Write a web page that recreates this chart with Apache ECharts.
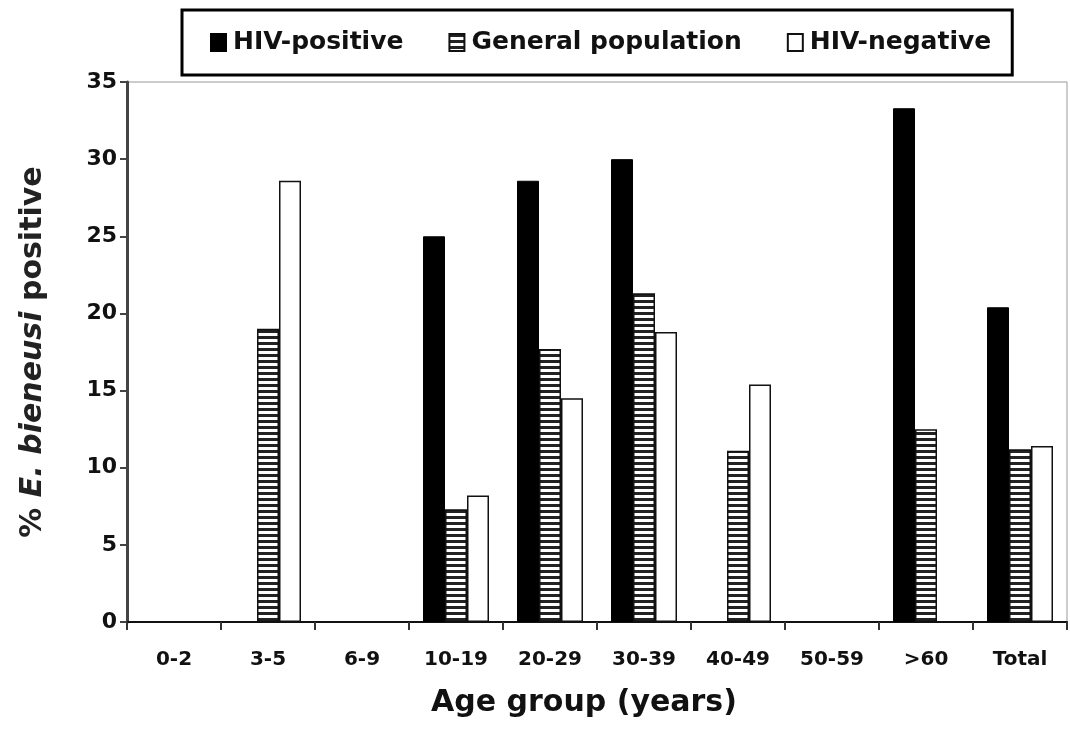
<!DOCTYPE html>
<html>
<head>
<meta charset="utf-8">
<script src="https://cdn.jsdelivr.net/npm/echarts@6/dist/echarts.min.js"></script>
<style>
html,body{margin:0;padding:0;background:#fff;}
#chart{width:1070px;height:729px;}
</style>
</head>
<body>
<div id="chart"></div>
<script>
const categories = ['0-2','3-5','6-9','10-19','20-29','30-39','40-49','50-59','>60','Total'];
const hivPositive = [null, null, null, 25.0, 28.6, 30.0, null, null, 33.3, 20.4];
const generalPopulation = [null, 19.0, null, 7.3, 17.7, 21.3, 11.1, null, 12.5, 11.2];
const hivNegative = [null, 28.6, null, 8.2, 14.5, 18.8, 15.4, null, null, 11.4];
const yTicks = [0, 5, 10, 15, 20, 25, 30, 35];

// horizontal hatch pattern
const pat = document.createElement('canvas');
pat.width = 6; pat.height = 6;
const pc = pat.getContext('2d');
pc.fillStyle = '#fff'; pc.fillRect(0, 0, 6, 6);
pc.fillStyle = '#222'; pc.fillRect(0, 0, 6, 3);

const FONT = 'DejaVu Sans';
const chart = echarts.init(document.getElementById('chart'), null, {renderer: 'canvas'});
chart.setOption({
  animation: false,
  backgroundColor: '#fff',
  textStyle: {fontFamily: FONT},
  legend: {
    left: 182, top: 10,
    padding: [20, 21, 20, 28],
    borderColor: '#000', borderWidth: 3,
    icon: 'rect',
    itemWidth: 15, itemHeight: 17, itemGap: 45,
    textStyle: {fontFamily: FONT, fontWeight: 'bold', fontSize: 25, color: '#111', padding: [0, 0, 0, 2]},
    data: ['HIV-positive', 'General population', 'HIV-negative']
  },
  grid: {
    left: 127, right: 3, top: 82, bottom: 107,
    show: true, borderColor: '#999', borderWidth: 1, backgroundColor: '#fff'
  },
  xAxis: {
    type: 'category',
    data: categories,
    name: 'Age group (years)',
    nameLocation: 'middle',
    nameGap: 66,
    nameTextStyle: {fontFamily: FONT, fontWeight: 'bold', fontSize: 30, color: '#111', padding: [0, 26, 0, 0]},
    axisLine: {lineStyle: {color: '#111', width: 2}},
    axisTick: {show: true, inside: false, length: 8, alignWithLabel: false, interval: 0, lineStyle: {color: '#333', width: 2}},
    axisLabel: {interval: 0, margin: 28, fontFamily: FONT, fontWeight: 'bold', fontSize: 20, color: '#111'},
    splitLine: {show: false}
  },
  yAxis: {
    type: 'value',
    min: yTicks[0], max: yTicks[yTicks.length - 1], interval: 5,
    name: '{a|% }{b|E. bieneusi}{a| positive}',
    nameLocation: 'middle',
    nameGap: 79,
    nameTextStyle: {
      rich: {
        a: {fontFamily: FONT, fontWeight: 'bold', fontSize: 30, color: '#222'},
        b: {fontFamily: FONT, fontWeight: 'bold', fontStyle: 'italic', fontSize: 30, color: '#222'}
      }
    },
    axisLine: {show: true, lineStyle: {color: '#444', width: 3}},
    axisTick: {show: true, length: 7, lineStyle: {color: '#444', width: 2}},
    axisLabel: {margin: 10, fontFamily: FONT, fontWeight: 'bold', fontSize: 22, color: '#111'},
    splitLine: {show: false}
  },
  series: [
    {
      name: 'HIV-positive', type: 'bar', data: hivPositive,
      barWidth: 22, barGap: '0%',
      itemStyle: {color: '#000', borderColor: '#000', borderWidth: 1}
    },
    {
      name: 'General population', type: 'bar', data: generalPopulation,
      barWidth: 22, barGap: '0%',
      itemStyle: {color: {image: pat, repeat: 'repeat'}, borderColor: '#111', borderWidth: 1.5}
    },
    {
      name: 'HIV-negative', type: 'bar', data: hivNegative,
      barWidth: 22, barGap: '0%',
      itemStyle: {color: '#fff', borderColor: '#111', borderWidth: 1.5}
    }
  ]
});
</script>
</body>
</html>
